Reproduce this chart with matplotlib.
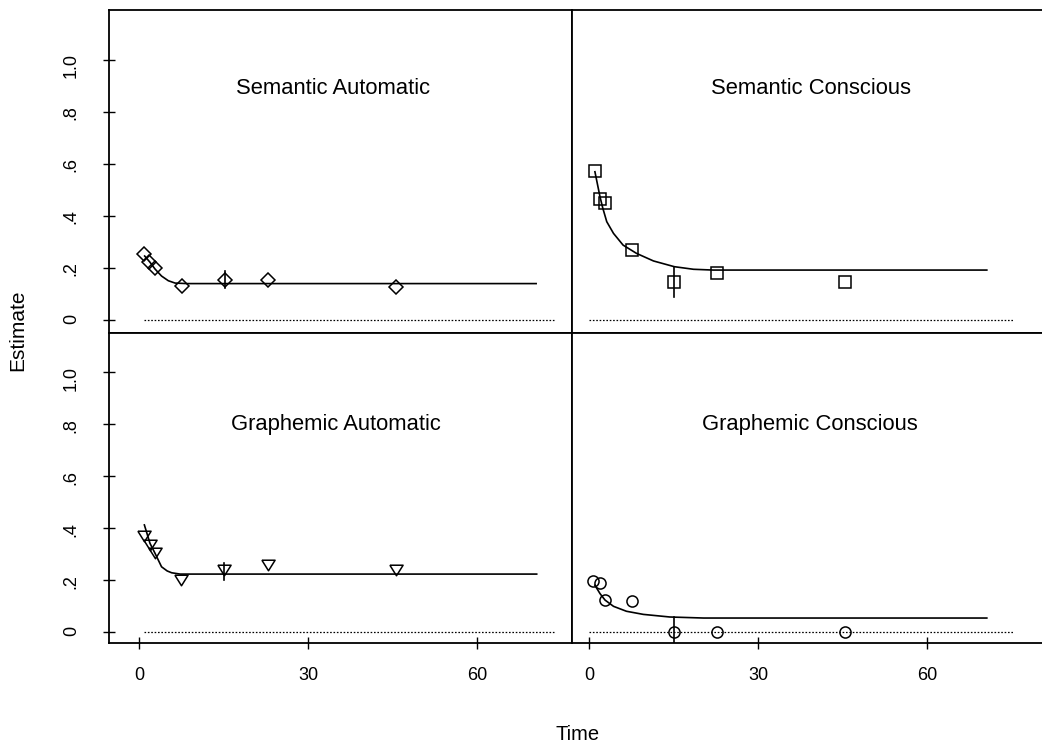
import matplotlib
matplotlib.use("Agg")
import matplotlib.pyplot as plt

plt.rcParams["font.family"] = ["Liberation Sans", "DejaVu Sans"]

W, H = 1042, 744

# ---- data ----
titles = ["Semantic Automatic", "Semantic Conscious",
          "Graphemic Automatic", "Graphemic Conscious"]

sem_auto_t = [0.8, 1.7, 2.8, 7.6, 15.2, 22.9, 45.6]
sem_auto_y = [0.254, 0.222, 0.201, 0.132, 0.155, 0.153, 0.126]
sem_auto_err = [15.2, 0.122, 0.188]
sem_auto_fit_t = [1.0, 1.95, 2.84, 4.0, 5.2, 6.4, 8.5, 70.5]
sem_auto_fit_y = [0.246, 0.222, 0.196, 0.169, 0.151, 0.142, 0.140, 0.140]

sem_con_t = [1.0, 1.9, 2.85, 7.5, 15.1, 22.7, 45.4]
sem_con_y = [0.574, 0.467, 0.451, 0.269, 0.145, 0.182, 0.145]
sem_con_err = [15.1, 0.090, 0.203]
sem_con_fit_t = [1.0, 1.9, 2.4, 3.1, 4.3, 6.0, 8.4, 11.4, 15.1, 18.5, 22.0, 70.6]
sem_con_fit_y = [0.570, 0.474, 0.430, 0.378, 0.333, 0.288, 0.256, 0.227,
                 0.205, 0.195, 0.192, 0.192]

gra_auto_t = [0.95, 1.95, 2.84, 7.46, 15.15, 22.9, 45.6]
gra_auto_y = [0.369, 0.336, 0.306, 0.203, 0.239, 0.260, 0.239]
gra_auto_err = [15.15, 0.200, 0.265]
gra_auto_fit_t = [0.95, 1.95, 2.84, 4.0, 5.0, 5.8, 7.3, 70.6]
gra_auto_fit_y = [0.413, 0.342, 0.304, 0.252, 0.236, 0.229, 0.224, 0.224]

gra_con_t = [0.7, 1.9, 2.85, 7.5, 15.1, 22.7, 45.4]
gra_con_y = [0.197, 0.188, 0.124, 0.120, 0.0, 0.0, 0.0]
gra_con_err = [15.1, -0.06, 0.059]
gra_con_fit_t = [1.0, 1.9, 2.8, 4.3, 6.6, 9.6, 14.3, 20.3, 70.6]
gra_con_fit_y = [0.181, 0.149, 0.124, 0.100, 0.081, 0.069, 0.059, 0.055, 0.055]

zero_t_left = [0.8, 73.7]
zero_t_right = [0.0, 75.2]

y_ticks = [0, 0.2, 0.4, 0.6, 0.8, 1.0]
y_ticklabels = ["0", ".2", ".4", ".6", ".8", "1.0"]
x_ticks = [0, 30, 60]
x_ticklabels = ["0", "30", "60"]

tri = [(-1, 0.8), (1, 0.8), (0, -0.8), (-1, 0.8)]

panels = [
    dict(t=sem_auto_t, y=sem_auto_y, err=sem_auto_err, ft=sem_auto_fit_t,
         fy=sem_auto_fit_y, marker="D", ms=7, zero=zero_t_left),
    dict(t=sem_con_t, y=sem_con_y, err=sem_con_err, ft=sem_con_fit_t,
         fy=sem_con_fit_y, marker="s", ms=8, zero=zero_t_right),
    dict(t=gra_auto_t, y=gra_auto_y, err=gra_auto_err, ft=gra_auto_fit_t,
         fy=gra_auto_fit_y, marker=tri, ms=9.5, zero=zero_t_left),
    dict(t=gra_con_t, y=gra_con_y, err=gra_con_err, ft=gra_con_fit_t,
         fy=gra_con_fit_y, marker="o", ms=8, zero=zero_t_right),
]

# panel boxes in pixels (x0, x1, ytop, ybottom) and axis limits
cols = [(109, 571.5, (-5.33, 76.78)), (571.5, 1042, (-3.16, 80.4))]
rows = [(10, 333, (-0.05, 1.192)), (333, 643, (-0.041, 1.151))]
title_pos = [(333, 88), (811, 88), (336, 424), (810, 424)]

fig = plt.figure(figsize=(W / 100, H / 100), dpi=100)

for i, p in enumerate(panels):
    r, c = divmod(i, 2)
    x0, x1, xl = cols[c]
    yt, yb, yl = rows[r]
    ax = fig.add_axes([x0 / W, 1 - yb / H, (x1 - x0) / W, (yb - yt) / H])
    ax.set_xlim(xl)
    ax.set_ylim(yl)
    for s in ax.spines.values():
        s.set_linewidth(1.3)
    if c == 1:
        ax.spines["right"].set_visible(False)

    ax.plot(p["zero"], [0, 0], color="black", lw=0.9, ls=(0, (1.3, 1.4)))
    ax.plot(p["ft"], p["fy"], color="black", lw=1.2)
    ax.plot([p["err"][0]] * 2, p["err"][1:], color="black", lw=1.2)
    ax.plot(p["t"], p["y"], ls="none", marker=p["marker"], ms=p["ms"],
            mfc="none", mec="black", mew=1.1)

    if c == 0:
        ax.set_yticks(y_ticks)
        ax.set_yticklabels(y_ticklabels)
        ax.tick_params(axis="y", direction="inout", length=8, width=1,
                       pad=17, labelsize=13, labelrotation=90)
    else:
        ax.set_yticks([])
    if r == 1:
        ax.set_xticks(x_ticks)
        ax.set_xticklabels(x_ticklabels)
        ax.tick_params(axis="x", direction="inout", length=8, width=1,
                       pad=13, labelsize=13)
    else:
        ax.set_xticks([])

    tx, ty = title_pos[i]
    fig.text(tx / W, 1 - ty / H, titles[i], ha="center", va="center",
             fontsize=15.8)

fig.text(578 / W, 1 - 735 / H, "Time", ha="center", va="center",
         fontsize=14.5)
fig.text(18 / W, 1 - 330 / H, "Estimate", ha="center", va="center",
         rotation=90, fontsize=15)

fig.savefig("out.png", dpi=100)
